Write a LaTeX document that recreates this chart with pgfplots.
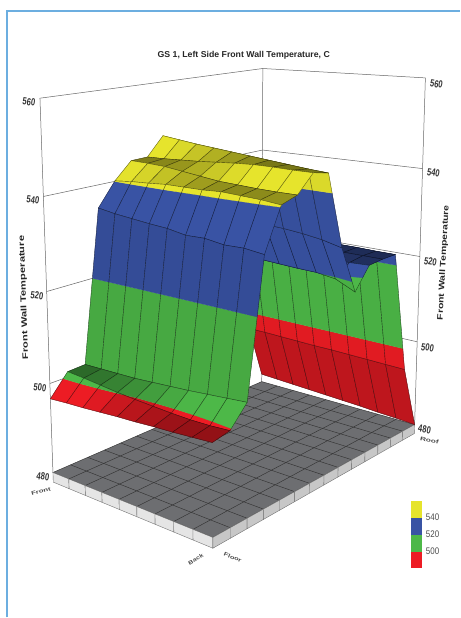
\documentclass[border=0pt]{standalone}
\usepackage{fontspec}
\setmainfont{Liberation Sans}
\usepackage{graphicx}
\usepackage{pgfplots}
\usepackage{pgfplotstable}
\pgfplotsset{compat=1.18}

\definecolor{bandred}{HTML}{ED1C24}
\definecolor{bandgreen}{HTML}{4DB848}
\definecolor{bandblue}{HTML}{3953A4}
\definecolor{bandyellow}{HTML}{E6E42C}
\definecolor{floorgray}{HTML}{6D6E71}
\definecolor{frameblue}{HTML}{6CAEE0}

% wall temperature, one line per row (floor to roof), one column per front-back position
\pgfplotstableread{
c0 c1 c2 c3 c4 c5 c6 c7 c8 c9
496.6 496.9 497.1 497.4 497.7 497.9 498.2 498.4 498.7 499.0
501.2 500.9 500.5 500.1 499.8 499.6 499.4 499.3 499.4 499.7
501.4 501.5 501.6 501.7 502.0 502.3 502.6 503.0 503.4 503.8
535.0 534.4 534.0 533.6 533.3 532.6 532.7 532.1 532.2 531.7
540.1 540.5 540.7 541.0 541.0 541.0 541.2 541.0 540.8 540.4
543.8 543.7 543.5 543.0 542.5 542.0 541.8 541.6 541.5 541.5
543.9 544.0 544.2 544.4 544.7 545.0 545.2 545.2 545.1 545.1
548.0 547.5 547.0 546.6 546.2 545.8 545.4 545.0 544.6 544.3
531.0 531.0 530.8 530.6 530.4 530.2 530.0 529.6 529.0 528.0
521.0 521.0 521.0 520.8 520.6 520.4 520.2 520.1 519.5 517.5
522.0 522.0 522.0 522.0 522.0 522.0 522.0 522.0 522.0 522.2
522.5 522.5 522.5 522.5 522.5 522.5 522.5 522.5 522.5 522.5
522.8 522.8 522.8 522.8 522.7 522.7 522.6 522.6 522.5 522.5
495.5 495.5 495.4 495.3 495.2 495.2 495.1 495.0 494.9 494.8
482.0 481.8 481.6 481.4 481.2 481.0 480.8 480.5 480.3 480.0
}\walltemps

% perspective of the box: u along front-back, v along floor-roof, t height (0..1)
\newcommand\px[3]{\fpeval{round((53+134.9*(#1)+261.8*(#2)-15.56*(#3))/(1-0.118*(#1)+0.2015*(#2)-0.064*(#3)),2)}}
\newcommand\py[3]{\fpeval{round((473+1.5*(#1)-14*(#2)-381*(#3))/(1-0.118*(#1)+0.2015*(#2)-0.064*(#3)),2)}}
\newcommand\gridpt[3]{(\px{(#1)/9}{(#2)/14}{((#3)-480)/80},\py{(#1)/9}{(#2)/14}{((#3)-480)/80})}
\newcommand\getT[2]{\csname T@#1@#2\endcsname}

% cut one cell to a colour band, walking round its four edges
\newcommand\crossing[5]{%
  \edef\strictly{\fpeval{(((#5)-\pT)*((#5)-\qT)<0)?1:0}}%
  \ifnum\strictly=1
    \edef\sf{\fpeval{((#5)-\pT)/(\qT-\pT)}}%
    \xdef\poly{\poly\gridpt{#1+\sf*(#3-#1)}{#2+\sf*(#4-#2)}{#5}}%
  \fi}
\newcommand\addedge[4]{%
  \edef\pT{\getT{#1}{#2}}\edef\qT{\getT{#3}{#4}}%
  \ifdim\pT pt<\bandlo pt\else\ifdim\pT pt>\bandhi pt\else
    \xdef\poly{\poly\gridpt{#1}{#2}{\pT}}%
  \fi\fi
  \ifdim\pT pt<\qT pt
    \crossing{#1}{#2}{#3}{#4}{\bandlo}\crossing{#1}{#2}{#3}{#4}{\bandhi}%
  \else\ifdim\pT pt>\qT pt
    \crossing{#1}{#2}{#3}{#4}{\bandhi}\crossing{#1}{#2}{#3}{#4}{\bandlo}%
  \fi\fi}
\newcommand\bandpoly[3]{%
  \def\bandlo{#1}\def\bandhi{#2}\gdef\poly{}%
  \addedge{\i}{\j}{\ii}{\j}\addedge{\ii}{\j}{\ii}{\jj}%
  \addedge{\ii}{\jj}{\i}{\jj}\addedge{\i}{\jj}{\i}{\j}%
  \ifx\poly\empty\else
    \edef\doplot{\noexpand\addplot[fill=#3!\shade!black,draw=#3!\shade!black,line width=0.2pt] coordinates {\poly} --cycle;}\doplot
  \fi}
\newcommand\ticktext[4]{\node[font=\fontsize{8}{9}\selectfont\bfseries,text=black!80,rotate=#4] at (axis cs:#1,#2) {\scalebox{0.95}[1.3]{#3}};}
\newcommand\keytext[2]{\node[font=\fontsize{8}{9}\selectfont,text=black!70] at (axis cs:433,#1) {\scalebox{1}[1.2]{#2}};}
\newcommand\edgetext[5]{\node[font=\fontsize{6}{7}\selectfont\bfseries,text=black!70,rotate=#4,inner sep=0pt] at (axis cs:#1,#2) {\scalebox{#5}[0.9]{#3}};}

\begin{document}
\begin{tikzpicture}
\foreach \i in {0,...,9}{\foreach \j in {0,...,14}{%
  \pgfplotstablegetelem{\j}{[index]\i}\of\walltemps
  \expandafter\xdef\csname T@\i @\j\endcsname{\pgfplotsretval}}}
\begin{axis}[width=460bp,height=618bp,scale only axis,xmin=0,xmax=460,ymin=0,ymax=618,
    y dir=reverse,hide axis,clip=false]
% page background and the blue frame
\addplot[fill=white,draw=none] coordinates {(0,0) (460,0) (460,618) (0,618)} --cycle;
\addplot[draw=frameblue,line width=1.3pt] coordinates {(7,618) (7,11) (460,11)};

% box lines
\foreach \T in {500,520,540,560}{
  \edef\doplot{\noexpand\addplot[draw=black!60,line width=0.5pt] coordinates {\gridpt{0}{0}{\T} \gridpt{0}{14}{\T} \gridpt{9}{14}{\T}};}\doplot
}
\foreach \i/\j in {0/0,0/14,9/14}{
  \edef\doplot{\noexpand\addplot[draw=black!60,line width=0.5pt] coordinates {\gridpt{\i}{\j}{480} \gridpt{\i}{\j}{560}};}\doplot
}

% floor slab
\edef\doplot{\noexpand\addplot[fill=floorgray,draw=none] coordinates {\gridpt{0}{0}{480} \gridpt{9}{0}{480} \gridpt{9}{14}{480} \gridpt{0}{14}{480}} --cycle;}\doplot
\foreach \i in {0,...,9}{
  \edef\doplot{\noexpand\addplot[draw=black!80,line width=0.45pt] coordinates {\gridpt{\i}{0}{480} \gridpt{\i}{14}{480}};}\doplot
}
\foreach \j in {0,...,14}{
  \edef\doplot{\noexpand\addplot[draw=black!80,line width=0.45pt] coordinates {\gridpt{0}{\j}{480} \gridpt{9}{\j}{480}};}\doplot
}
\foreach \i in {0,...,8}{
  \pgfmathtruncatemacro\ii{\i+1}
  \edef\doplot{\noexpand\addplot[fill=black!10,draw=black!55,line width=0.4pt] coordinates {\gridpt{\i}{0}{480} \gridpt{\ii}{0}{480} \gridpt{\ii}{0}{477.8} \gridpt{\i}{0}{477.8}} --cycle;}\doplot
}
\foreach \j in {0,...,13}{
  \pgfmathtruncatemacro\jj{\j+1}
  \edef\doplot{\noexpand\addplot[fill=black!22,draw=black!55,line width=0.4pt] coordinates {\gridpt{9}{\j}{480} \gridpt{9}{\jj}{480} \gridpt{9}{\jj}{477.8} \gridpt{9}{\j}{477.8}} --cycle;}\doplot
}

% surface, far rows first
\foreach \j in {13,12,...,0}{
  \foreach \i in {0,...,8}{
    \pgfmathtruncatemacro\ii{\i+1}
    \pgfmathtruncatemacro\jj{\j+1}
    \edef\rise{\fpeval{(\getT{\i}{\jj}+\getT{\ii}{\jj}-\getT{\i}{\j}-\getT{\ii}{\j})/2}}
    \edef\shade{\fpeval{round(\rise>=10?92:(\rise>=3.5?100:(\rise>=0?52+48*\rise/3.5:(\rise>=-1.5?52:(\j==13?80:95)))),0)}}
    \bandpoly{480}{500}{bandred}
    \bandpoly{500}{520}{bandgreen}
    \bandpoly{520}{540}{bandblue}
    \bandpoly{540}{560}{bandyellow}
    \edef\doplot{\noexpand\addplot[draw=black,draw opacity=0.55,line width=0.4pt] coordinates {\gridpt{\i}{\j}{\getT{\i}{\j}} \gridpt{\ii}{\j}{\getT{\ii}{\j}} \gridpt{\ii}{\jj}{\getT{\ii}{\jj}} \gridpt{\i}{\jj}{\getT{\i}{\jj}} \gridpt{\i}{\j}{\getT{\i}{\j}}};}\doplot
  }
}

% colour key
\addplot[fill=bandyellow,draw=none] coordinates {(411,502) (422,502) (422,519) (411,519)} --cycle;
\addplot[fill=bandblue,draw=none] coordinates {(411,519) (422,519) (422,536) (411,536)} --cycle;
\addplot[fill=bandgreen,draw=none] coordinates {(411,536) (422,536) (422,553) (411,553)} --cycle;
\addplot[fill=bandred,draw=none] coordinates {(411,553) (422,553) (422,569) (411,569)} --cycle;
\keytext{518}{540}
\keytext{535}{520}
\keytext{552}{500}

% texts
\node[font=\fontsize{8.6}{10}\selectfont\bfseries,text=black!85] at (axis cs:244,55) {\scalebox{1.02}[1]{GS 1, Left Side Front Wall Temperature, C}};
\ticktext{29}{102}{560}{-8}
\ticktext{33}{200}{540}{-8}
\ticktext{37}{296}{520}{-8}
\ticktext{40}{388}{500}{-8}
\ticktext{43}{477}{480}{-8}
\ticktext{437}{84}{560}{-10}
\ticktext{434}{173}{540}{-10}
\ticktext{431}{262}{520}{-10}
\ticktext{428}{348}{500}{-10}
\ticktext{425}{430}{480}{-10}
\node[font=\fontsize{8}{9}\selectfont\bfseries,text=black!85,rotate=92] at (axis cs:24,298) {\scalebox{1.4}[1]{Front Wall Temperature}};
\node[font=\fontsize{8}{9}\selectfont\bfseries,text=black!85,rotate=87] at (axis cs:444,263) {\scalebox{1.3}[1]{Front Wall Temperature}};
\edgetext{41}{492}{Front}{15}{1.3}
\edgetext{196}{560}{Back}{30}{1.15}
\edgetext{233}{558}{Floor}{-22}{1.25}
\edgetext{430}{441}{Roof}{-12}{1.4}
\end{axis}
\end{tikzpicture}
\end{document}
